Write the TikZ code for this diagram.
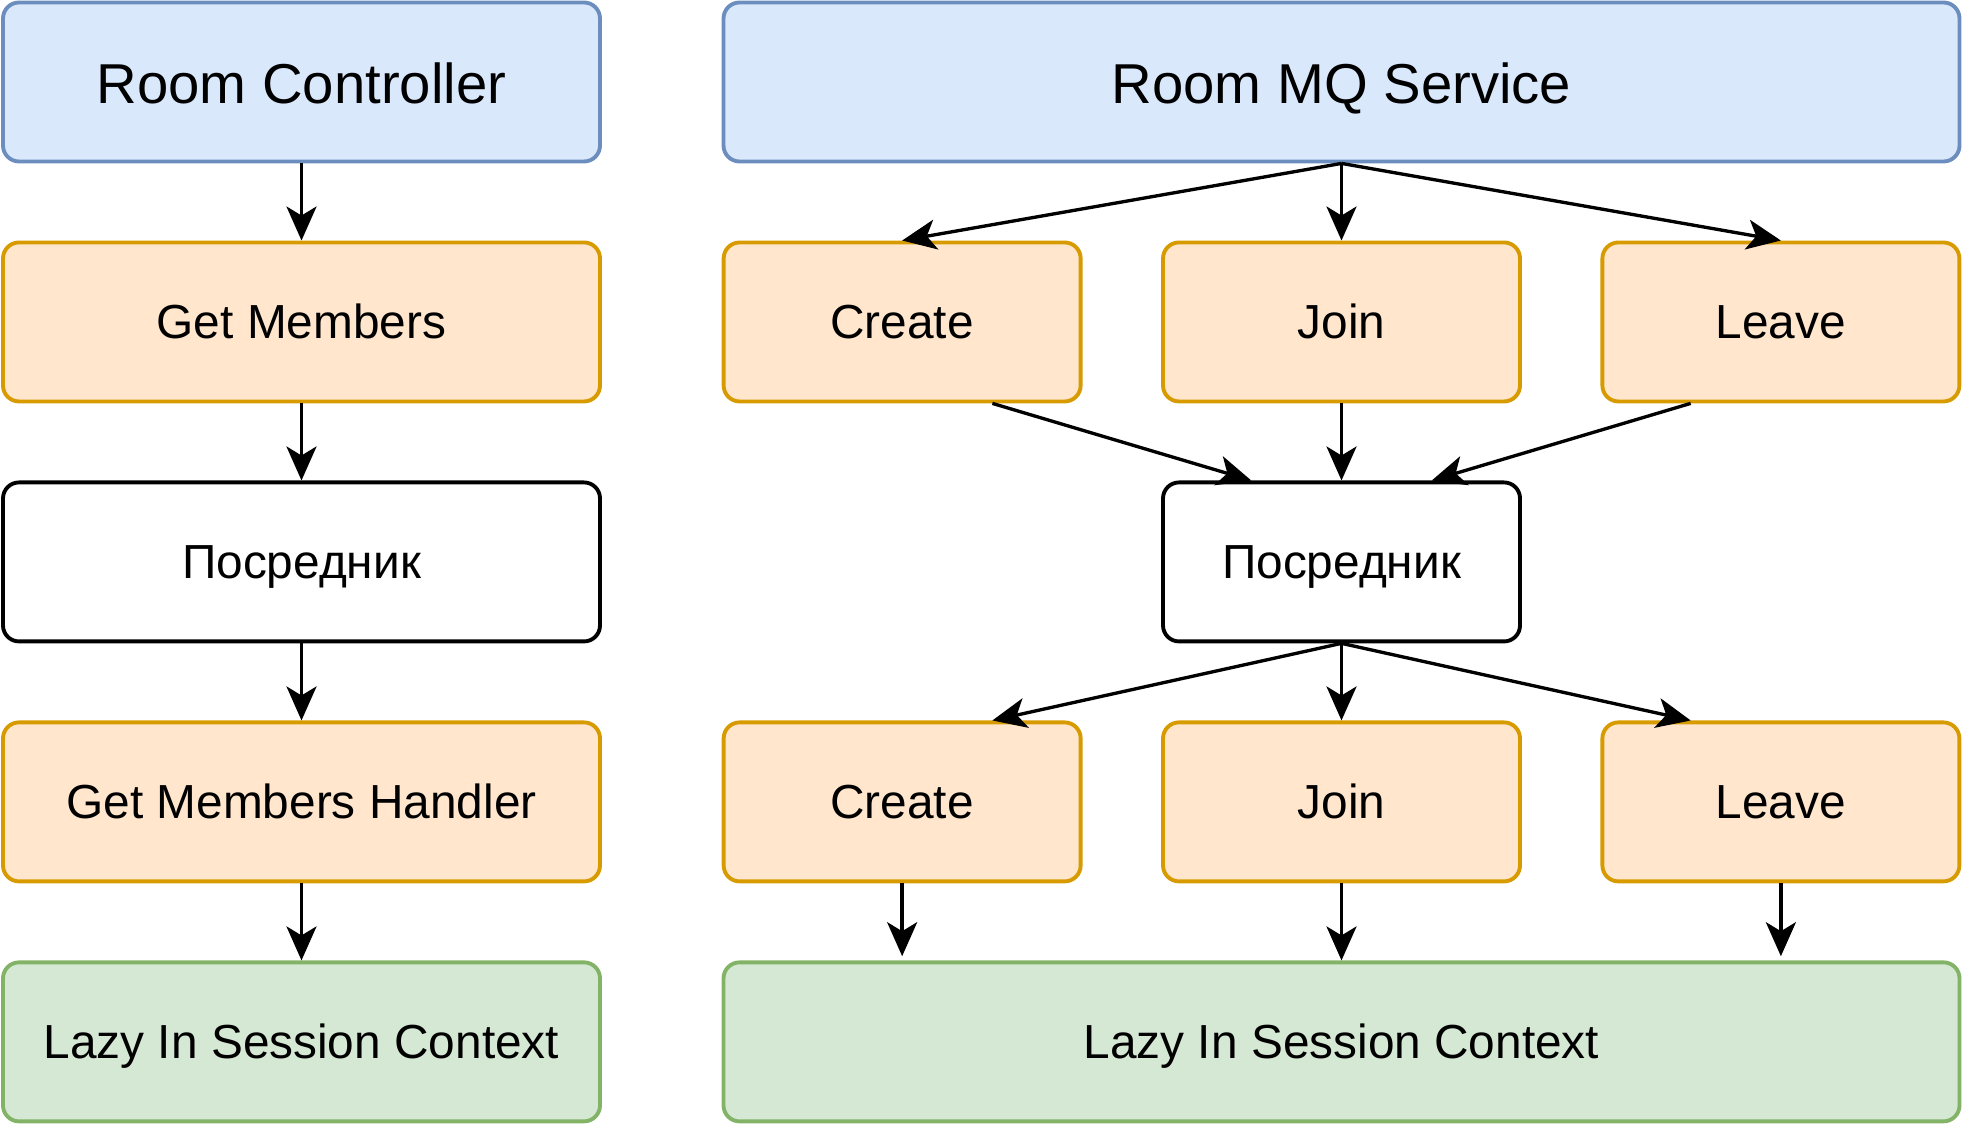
\documentclass[tikz,border=0pt]{standalone}
\usepackage{fontspec}
\setmainfont{Liberation Sans}
\usepackage{tikz}
\usetikzlibrary{arrows.meta, positioning, calc}

\definecolor{bluefill}{HTML}{DAE8FC}
\definecolor{bluedraw}{HTML}{6C8EBF}
\definecolor{orangefill}{HTML}{FFE6CC}
\definecolor{orangedraw}{HTML}{D79B00}
\definecolor{greenfill}{HTML}{D5E8D4}
\definecolor{greendraw}{HTML}{82B366}

\begin{document}
\begin{tikzpicture}[
    box/.style={draw, line width=1.1pt, rounded corners=0.16cm, minimum height=1.59cm, inner sep=0pt, text height=10.4pt, text depth=1pt, font=\fontsize{13.6}{16}\selectfont},
    ctrlbox/.style={box, fill=bluefill, draw=bluedraw, text height=13pt, text depth=0.6pt, font=\fontsize{16}{19}\selectfont},
    opbox/.style={box, fill=orangefill, draw=orangedraw},
    medbox/.style={box, fill=white, draw=black},
    ctxbox/.style={box, fill=greenfill, draw=greendraw},
    wide/.style={minimum width=5.97cm},
    narrow/.style={minimum width=3.57cm},
    flow/.style={-{Stealth[length=0.34cm, width=0.3cm, inset=0.09cm]}, line width=0.95pt},
    node distance=0.771cm and 0.785cm
]
    \useasboundingbox (0,0) rectangle (19.64,-11.24);

    % Left column - one chain
    \node[ctrlbox, wide] at (3.015,-0.82) (rc) {Room Controller};
    \node[opbox, wide, below=of rc] (getm) {Get Members};
    \node[medbox, wide, below=of getm] (med1) {Посредник};
    \node[opbox, wide, below=of med1] (getmh) {Get Members Handler};
    \node[ctxbox, wide, below=of getmh] (lazy1) {Lazy In Session Context};

    % Right column - service and its operations
    \node[ctrlbox, minimum width=12.36cm] at (13.415,-0.82) (rmq) {Room MQ Service};
    \node[opbox, narrow, below=of rmq] (join1) {Join};
    \node[opbox, narrow, left=of join1] (create1) {Create};
    \node[opbox, narrow, right=of join1] (leave1) {Leave};
    \node[medbox, narrow, below=of join1] (med2) {Посредник};
    \node[opbox, narrow, below=of med2] (join2) {Join};
    \node[opbox, narrow, left=of join2] (create2) {Create};
    \node[opbox, narrow, right=of join2] (leave2) {Leave};
    \node[ctxbox, minimum width=12.36cm, below=of join2] (lazy2) {Lazy In Session Context};

    % Left arrows
    \draw[flow] (rc) -- (getm);
    \draw[flow] (getm) -- (med1);
    \draw[flow] (med1) -- (getmh);
    \draw[flow] (getmh) -- (lazy1);

    % Service to operations
    \draw[flow] (rmq.south) -- (create1.north);
    \draw[flow] (rmq.south) -- (join1.north);
    \draw[flow] (rmq.south) -- (leave1.north);

    % Operations to mediator
    \draw[flow] ($(create1.south west)!0.75!(create1.south east)$) -- ($(med2.north west)!0.25!(med2.north east)$);
    \draw[flow] (join1) -- (med2);
    \draw[flow] ($(leave1.south west)!0.25!(leave1.south east)$) -- ($(med2.north west)!0.75!(med2.north east)$);

    % Mediator to handlers
    \draw[flow] (med2.south) -- ($(create2.north west)!0.75!(create2.north east)$);
    \draw[flow] (med2) -- (join2);
    \draw[flow] (med2.south) -- ($(leave2.north west)!0.25!(leave2.north east)$);

    % Handlers to context
    \draw[flow, shorten >=1.2pt] (create2.south) -- (create2.south |- lazy2.north);
    \draw[flow] (join2) -- (lazy2);
    \draw[flow, shorten >=1.2pt] (leave2.south) -- (leave2.south |- lazy2.north);
\end{tikzpicture}
\end{document}
